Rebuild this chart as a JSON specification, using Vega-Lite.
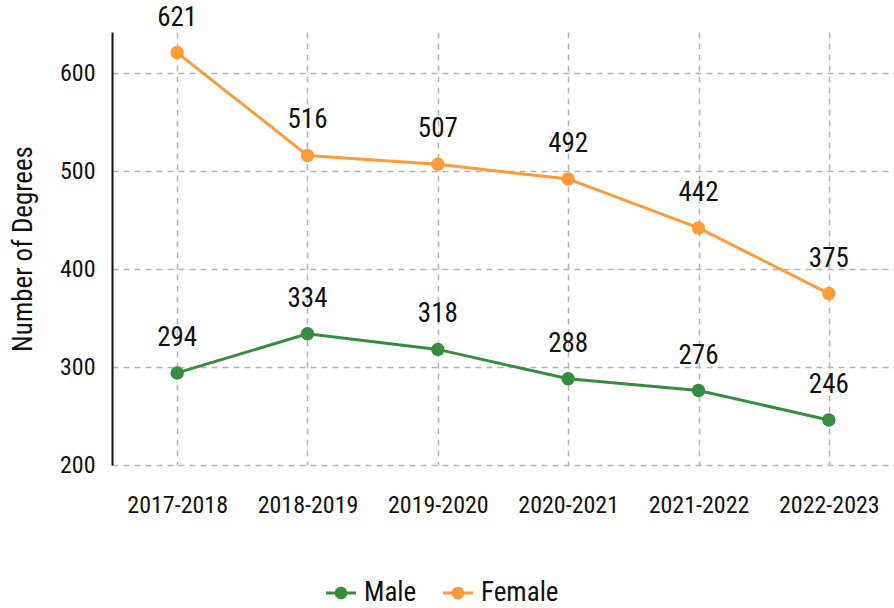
{
  "$schema": "https://vega.github.io/schema/vega-lite/v6.json",
  "width": 782,
  "height": 433,
  "autosize": {"type": "none"},
  "padding": {"left": 112, "top": 32, "right": 0, "bottom": 143},
  "background": "white",
  "config": {
    "font": "Roboto Condensed, Noto Sans Condensed, Open Sans Condensed, Liberation Sans Narrow, DejaVu Sans Condensed, sans-serif",
    "view": {"stroke": null}
  },
  "data": {
    "values": [
      {"year": "2017-2018", "gender": "Male", "degrees": 294},
      {"year": "2018-2019", "gender": "Male", "degrees": 334},
      {"year": "2019-2020", "gender": "Male", "degrees": 318},
      {"year": "2020-2021", "gender": "Male", "degrees": 288},
      {"year": "2021-2022", "gender": "Male", "degrees": 276},
      {"year": "2022-2023", "gender": "Male", "degrees": 246},
      {"year": "2017-2018", "gender": "Female", "degrees": 621},
      {"year": "2018-2019", "gender": "Female", "degrees": 516},
      {"year": "2019-2020", "gender": "Female", "degrees": 507},
      {"year": "2020-2021", "gender": "Female", "degrees": 492},
      {"year": "2021-2022", "gender": "Female", "degrees": 442},
      {"year": "2022-2023", "gender": "Female", "degrees": 375}
    ]
  },
  "encoding": {
    "x": {
      "field": "year", "type": "ordinal",
      "scale": {"type": "point", "padding": 0.5},
      "axis": {
        "title": null, "domain": false, "ticks": false,
        "labelAngle": 0, "labelFontSize": 24, "labelColor": "#111",
        "labelPadding": 28,
        "grid": true, "gridColor": "#b3b3b3", "gridDash": [6, 5], "gridWidth": 1.5
      }
    },
    "y": {
      "field": "degrees", "type": "quantitative",
      "scale": {"domain": [200, 642], "nice": false, "zero": false},
      "axis": {
        "title": "Number of Degrees", "titleFontSize": 27, "titleFontWeight": "normal",
        "titleColor": "#111", "titlePadding": 22,
        "values": [200, 300, 400, 500, 600],
        "domain": true, "domainColor": "#111", "domainWidth": 2,
        "ticks": false, "labelFontSize": 24, "labelColor": "#111", "labelPadding": 17,
        "grid": true, "gridColor": "#b3b3b3", "gridDash": [6, 5], "gridWidth": 1.5
      }
    },
    "color": {
      "field": "gender", "type": "nominal",
      "scale": {"domain": ["Male", "Female"], "range": ["#378d3f", "#ff9b38"]},
      "legend": {
        "title": null, "orient": "none", "direction": "horizontal",
        "legendX": 214, "legendY": 546,
        "labelFontSize": 27, "labelColor": "#111",
        "symbolType": "M-1,-0.1 L1,-0.1 L1,0.1 L-1,0.1 Z M0.42,0 A0.42,0.42 0 1,1 -0.42,0 A0.42,0.42 0 1,1 0.42,0 Z",
        "symbolSize": 900, "symbolStrokeWidth": 0, "columnPadding": 26, "labelOffset": 8,
        "encode": {"symbols": {"update": {"fill": {"scale": "color", "field": "value"}, "opacity": {"value": 1}}}}
      }
    }
  },
  "layer": [
    {"mark": {"type": "line", "strokeWidth": 3}},
    {"mark": {"type": "point", "filled": true, "size": 180, "opacity": 1}},
    {
      "mark": {"type": "text", "dy": -35, "fontSize": 27, "color": "#111", "baseline": "middle"},
      "encoding": {"text": {"field": "degrees"}, "color": {"value": "#111"}}
    }
  ]
}
